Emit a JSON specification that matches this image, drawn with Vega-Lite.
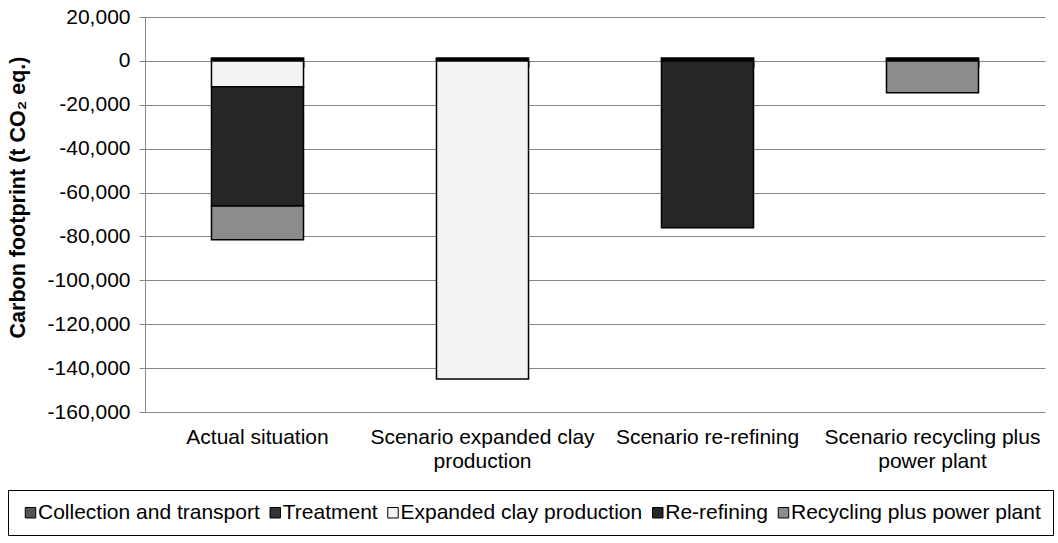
{
  "$schema": "https://vega.github.io/schema/vega-lite/v6.json",
  "width": 900,
  "height": 395,
  "autosize": {"type": "none"},
  "padding": {"left": 145, "top": 17, "right": 13, "bottom": 131},
  "background": "white",
  "config": {
    "font": "Liberation Sans",
    "view": {"stroke": null},
    "axis": {"labelColor": "black", "labelFontSize": 21, "titleColor": "black"}
  },
  "data": {
    "values": [
      {"scenario": "Actual situation", "stage": "Collection and transport", "value": 700},
      {"scenario": "Actual situation", "stage": "Treatment", "value": 600},
      {"scenario": "Actual situation", "stage": "Expanded clay production", "value": -11800},
      {"scenario": "Actual situation", "stage": "Re-refining", "value": -54300},
      {"scenario": "Actual situation", "stage": "Recycling plus power plant", "value": -15400},
      {"scenario": "Scenario expanded clay production", "stage": "Collection and transport", "value": 700},
      {"scenario": "Scenario expanded clay production", "stage": "Treatment", "value": 600},
      {"scenario": "Scenario expanded clay production", "stage": "Expanded clay production", "value": -145000},
      {"scenario": "Scenario re-refining", "stage": "Collection and transport", "value": 700},
      {"scenario": "Scenario re-refining", "stage": "Treatment", "value": 600},
      {"scenario": "Scenario re-refining", "stage": "Re-refining", "value": -76000},
      {"scenario": "Scenario recycling plus power plant", "stage": "Collection and transport", "value": 700},
      {"scenario": "Scenario recycling plus power plant", "stage": "Treatment", "value": 600},
      {"scenario": "Scenario recycling plus power plant", "stage": "Recycling plus power plant", "value": -14500}
    ]
  },
  "encoding": {
    "y": {
      "field": "value",
      "type": "quantitative",
      "scale": {"domain": [-160000, 20000], "nice": false, "zero": false},
      "axis": {
        "values": [-160000, -140000, -120000, -100000, -80000, -60000, -40000, -20000, 0, 20000],
        "labelExpr": "replace(format(datum.value, ',.0f'), '\u2212', '-')",
        "grid": true,
        "gridColor": "#868686",
        "gridWidth": 1,
        "domainColor": "#868686",
        "tickColor": "#868686",
        "tickSize": 6,
        "labelPadding": 9,
        "title": "Carbon footprint (t CO₂ eq.)",
        "titleFontSize": 21.5,
        "titleFontWeight": "bold",
        "titleAngle": -90,
        "titleAlign": "center",
        "titleBaseline": "alphabetic",
        "titleX": -121,
        "titleY": 180
      }
    }
  },
  "layer": [
    {
      "mark": {"type": "bar", "stroke": "black", "strokeWidth": 1.5},
      "encoding": {
        "x": {
          "field": "scenario",
          "type": "nominal",
          "sort": null,
          "scale": {"paddingInner": 0.591, "paddingOuter": 0.2955},
          "axis": {
            "orient": "bottom",
            "title": null,
            "domain": false,
            "ticks": false,
            "grid": false,
            "labelAngle": 0,
            "labelPadding": 14,
            "labelLineHeight": 24,
            "labelBaseline": "top",
            "labelLimit": 0,
            "labelExpr": "datum.value == 'Scenario expanded clay production' ? ['Scenario expanded clay', 'production'] : datum.value == 'Scenario recycling plus power plant' ? ['Scenario recycling plus', 'power plant'] : datum.value"
          }
        },
        "order": {"field": "stage", "sort": "ascending"},
        "color": {
          "field": "stage",
          "type": "nominal",
          "scale": {
            "domain": ["Collection and transport", "Treatment", "Expanded clay production", "Re-refining", "Recycling plus power plant"],
            "range": ["#555555", "#333333", "#f3f3f3", "#262626", "#8c8c8c"]
          },
          "legend": {
            "title": null,
            "orient": "none",
            "direction": "horizontal",
            "legendX": -137,
            "legendY": 473,
            "strokeColor": "black",
            "padding": 12,
            "symbolType": "square",
            "symbolSize": 110,
            "symbolStrokeColor": "black",
            "symbolStrokeWidth": 1,
            "labelFontSize": 21,
            "labelColor": "black",
            "labelOffset": -3,
            "columnPadding": 4.75,
            "labelLimit": 0
          }
        }
      }
    },
    {
      "mark": {"type": "point", "opacity": 0},
      "encoding": {
        "x": {
          "field": "scenario",
          "type": "nominal",
          "sort": null,
          "axis": {
            "orient": "bottom",
            "offset": -351,
            "labels": false,
            "title": null,
            "grid": false,
            "domain": true,
            "domainColor": "#868686",
            "ticks": true,
            "tickBand": "extent",
            "tickColor": "#868686",
            "tickSize": 6
          }
        }
      }
    }
  ],
  "resolve": {"axis": {"x": "independent"}}
}
